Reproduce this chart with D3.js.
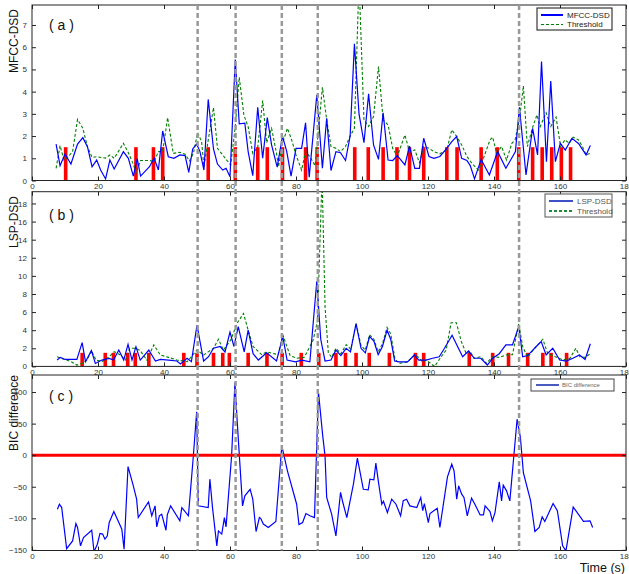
<!DOCTYPE html>
<html>
<head>
<meta charset="utf-8">
<script src="https://cdn.jsdelivr.net/npm/d3@7"></script>
<style>
  body { margin: 0; background: #fff; }
  svg { display: block; font-family: "Liberation Sans", Arial, sans-serif; }
</style>
</head>
<body>
<div id="chart"></div>
<script>
// [time (s), value] readings
const mfccDsd = [[7.3,1.64],[8.5,0.67],[10,1.19],[11.8,0.74],[13.8,1.64],[15.4,1.93],[16.8,1.52],[18.2,0.62],[19.6,0.92],[20.8,0.47],[22.3,0.07],[23.6,0.92],[24.9,0.52],[27.7,1.3],[29.2,1.0],[30.7,0.2],[31.9,0.97],[32.9,0.2],[35.6,0.62],[37,1.0],[38.3,0.47],[39.6,2.23],[41.3,1.07],[43,1.0],[44.8,1.15],[46.4,1.12],[47.5,0.37],[48.7,1.42],[49.9,1.64],[50.9,1.3],[52.1,0.47],[53.4,3.65],[55,1.42],[56.2,0.74],[57.8,0.47],[58.8,0.55],[60,0.17],[61.6,5.45],[62.8,2.55],[64.5,2.58],[65.5,1.3],[66.9,0.22],[68.4,3.3],[69.9,1.0],[71.3,2.83],[72.6,1.6],[74.3,0.6],[75.9,2.0],[77.2,1.3],[78.5,0.2],[80,1.45],[81.7,1.45],[82.9,2.6],[84,0.15],[86.3,3.85],[88,0.55],[89.3,2.8],[90.6,0.45],[92.1,1.3],[93.5,1.25],[95,0.9],[96.4,2.0],[97.7,6.15],[99.1,3.0],[100.6,1.7],[102,3.9],[103.5,1.6],[105,0.95],[106.4,3.05],[107.9,0.92],[109.3,0.9],[110.7,1.12],[113,0.7],[114.4,1.55],[116,0.55],[117.4,0.55],[118.7,1.9],[120.3,1.08],[121.8,1.0],[123.6,1.08],[125.7,1.45],[127.2,1.75],[128.7,1.98],[130.2,1.0],[131.8,0.9],[132.8,0.67],[134.1,0.07],[136.1,0.95],[138.6,0.25],[141.1,1.3],[143.6,0.55],[146.5,1.3],[147.7,3.3],[149.7,0.25],[151.7,2.35],[153.2,1.15],[154.4,5.35],[155.9,0.85],[157.2,4.48],[158.6,0.85],[160.1,1.67],[161.6,1.37],[163.6,1.9],[165.6,1.67],[167.9,1.15],[169.2,1.58]];

const mfccThreshold = [[7.3,0.55],[8.5,1.57],[9.7,0.92],[11,1.07],[12.3,1.3],[13.8,2.75],[15.4,2.35],[16.8,1.52],[18.2,1.04],[19.6,1.07],[22.3,1.01],[23.6,1.15],[24.9,1.0],[27.7,1.67],[29.2,1.25],[30.7,0.74],[31.5,0.35],[32.9,0.9],[35.6,0.9],[37,0.85],[38.3,1.3],[39.6,1.3],[41.1,2.83],[42.8,1.22],[44.8,1.27],[46.4,1.18],[47.7,0.88],[48.9,1.22],[50.2,2.15],[51.4,1.75],[52.1,0.62],[53.4,1.82],[55,3.28],[56.2,1.45],[57.8,1.15],[59,0.92],[60.2,0.7],[61.6,2.42],[62.8,4.65],[64.2,2.95],[65.5,2.42],[66.9,1.22],[68.4,1.5],[69.9,3.6],[71.1,1.7],[72.6,2.35],[74.1,1.22],[74.7,0.62],[75.9,1.67],[77.4,2.35],[78.7,1.82],[80,1.15],[81.7,0.47],[82.9,1.3],[84.2,1.07],[85.8,0.67],[88,4.2],[89.3,2.73],[90.6,1.53],[92.1,1.45],[93.5,1.3],[95,1.53],[96.4,2.0],[97.7,2.35],[99.1,9.0],[100.6,2.73],[102,2.43],[103.5,2.88],[105,5.13],[106.4,2.73],[107.9,2.5],[109.3,1.45],[110.7,1.08],[113,2.05],[114.4,1.3],[116,1.38],[117.4,0.8],[118.7,1.53],[120.3,1.45],[121.8,1.3],[123.6,1.2],[125.7,1.38],[127.2,2.28],[128.7,1.98],[130.2,1.6],[131.8,1.08],[133.3,0.77],[135.3,0.47],[136.8,1.0],[138.8,1.83],[139.6,1.95],[140.8,1.23],[142.3,1.53],[143.8,0.92],[145.4,1.67],[146.4,1.83],[147.7,2.73],[148.9,4.26],[150.1,1.53],[151.8,2.43],[153,2.95],[154,2.43],[155.8,3.05],[157.2,2.43],[158.8,2.85],[160.2,1.53],[161.5,1.83],[162.8,1.68],[164,1.95],[165.6,1.83],[166.8,1.53],[167.9,1.15],[169.2,1.23]];

const mfccMarks = [10.2,31.5,36.8,39.6,53.4,61.6,68.4,71.3,75.9,82.9,86.4,97.8,101.9,106.4,110.6,114.4,118.7,125.7,128.8,136.1,141,147.5,151.7,154.6,157.5,160.4,163.2];

const lspDsd = [[7.6,0.71],[8.6,1.0],[10.1,0.77],[13.6,0.77],[15.2,2.62],[16.2,0.52],[18,1.74],[19.2,0.33],[21.2,0.7],[23.4,0.89],[24.7,0.7],[26.3,1.81],[27.8,0.7],[29.1,2.44],[30.3,0.7],[31.5,2.18],[32.8,0.7],[35.4,1.81],[37.4,0.59],[38.9,0.77],[41.4,0.7],[43.9,0.6],[45,0.26],[47,0.89],[48.3,0.52],[50,4.57],[52,0.59],[53.5,1.07],[55,2.0],[57,2.2],[58.5,1.6],[60,3.8],[61.2,2.2],[62.5,4.4],[64.3,1.6],[65.5,4.0],[67,1.4],[68.6,0.7],[71.1,1.5],[74.1,0.6],[76,3.3],[77.3,0.7],[79.8,0.5],[81.8,0.7],[84.2,0.5],[86.3,9.4],[87.5,3.0],[88.8,0.6],[90.6,0.7],[92.1,1.8],[93.6,1.2],[95.2,2.0],[96.5,1.6],[98.2,4.7],[99.7,2.0],[101,1.5],[102.3,3.3],[103.6,2.8],[104.9,1.3],[106.2,2.2],[107.6,4.0],[108.7,3.0],[109.9,0.6],[111.3,0.5],[113.8,0.5],[115.9,1.26],[117.2,0.7],[119.4,0.7],[121.4,0.9],[123.4,1.07],[125,2.0],[127.3,3.45],[129,2.18],[130.5,1.07],[132.3,1.7],[134,0.9],[136,0.9],[138,0.15],[139.6,0.9],[141.6,1.4],[143.6,2.37],[145.6,2.37],[147.5,4.4],[148.7,1.07],[150.2,1.2],[152.8,2.2],[154.3,2.75],[155.8,1.26],[157.8,2.0],[159.9,0.7],[161.9,0.59],[163.9,0.9],[165.9,1.26],[167.6,0.77],[169.2,2.5]];

const lspThreshold = [[7.6,1.07],[9.6,0.8],[11.9,0.52],[13.6,0.15],[15.2,0.33],[16.7,0.7],[18,1.74],[19.4,0.7],[21.2,0.52],[23.4,1.07],[24.9,1.63],[26.8,1.26],[28.3,0.7],[29.6,2.0],[31.3,2.0],[32.8,1.74],[34.8,0.7],[36.9,2.37],[38.9,1.26],[41.4,1.0],[43.9,0.7],[47,0.52],[50,1.81],[52,1.26],[53.5,1.63],[55,2.0],[56.5,3.0],[58,1.8],[60.2,2.9],[62.2,4.8],[64.1,5.85],[65.5,4.0],[67,2.2],[69.6,1.3],[71.1,1.6],[74.6,1.3],[76,3.5],[78.2,1.2],[80.2,0.9],[82.5,1.0],[85.2,2.9],[86.5,5.0],[87.9,21],[88.8,6.6],[89.8,1.5],[90.8,1.0],[92.1,2.0],[93.6,1.4],[95.2,2.4],[96.6,1.9],[98.2,4.8],[99.7,2.3],[101,1.8],[102.3,3.5],[103.6,3.0],[104.9,1.6],[106.2,2.5],[107.6,4.3],[108.7,3.6],[110,0.8],[111.3,0.33],[113.8,0.5],[115.9,1.26],[116.9,1.07],[118.4,0.5],[119.4,0.7],[122,0.0],[124,1.07],[125.5,1.8],[127,4.82],[128.6,4.82],[130.1,2.75],[131.6,1.4],[132.6,1.7],[134,0.9],[136,1.07],[137.6,0.33],[139.6,1.07],[141.6,1.0],[143.6,1.26],[145.6,1.3],[147.5,4.75],[148.7,2.18],[150.2,1.0],[152.3,2.0],[154.8,3.0],[156.3,1.4],[158.4,1.1],[160.9,0.7],[163,0.9],[164.8,2.0],[166,1.07],[167.6,1.0],[169.2,1.4]];

const lspMarks = [15.2,22.2,24.7,29,31.3,35.4,46,50,55,57.8,59.8,65.5,71.2,75.8,81.6,86.9,92.1,95,98.2,102.2,108.3,116.2,118.7,132.5,139.6,144.4,150.2,154.8,157.3,162];

const bicDiff = [[7.7,-85.6],[8.3,-77.7],[9,-83],[10.5,-148],[12.3,-135.8],[13.3,-108.3],[13.8,-114.6],[14.7,-143.7],[15.6,-130.5],[18.1,-118.9],[18.8,-153],[19.8,-141],[20.6,-124],[21.4,-125],[22.1,-133],[22.8,-128],[23.4,-106.7],[24.8,-89.3],[27.2,-117],[27.9,-149],[29.1,-18],[30.7,-48.6],[31.7,-69.7],[32.2,-98.8],[35.3,-74],[36.3,-96],[37.3,-80.3],[37.8,-113.6],[38.6,-96],[39.3,-93.5],[40.6,-118.9],[41,-94.6],[42,-80.3],[44.8,-104],[45.4,-83],[47.4,-96],[48.9,-1],[49.9,68.7],[50.4,-80.3],[53.4,-83],[53.9,-38],[54.7,-83],[56,-143.7],[56.5,-120],[57.5,-125],[58.3,-98.8],[58.8,-113.6],[60.5,0],[61.5,115],[62.2,52],[63.8,-80.3],[64.5,-64.4],[66.1,-54],[66.9,-69.7],[67.9,-121],[68.9,-98.8],[69.3,-100],[70.1,-109],[71.6,-114.6],[73.9,-105],[75.7,14.8],[77.4,-24.8],[80.2,-77.7],[80.9,-110],[82,-106.7],[83,-92.4],[84.2,-96],[85.6,-98.8],[86.8,100],[88.1,30.6],[88.8,-1],[89.3,-67],[90.8,-93.5],[92.1,-128],[93.5,-59],[94.2,-75],[95.4,-98.8],[97.4,-46],[98.6,-4.8],[100.4,-54],[101.9,-55],[102.4,-38],[103.6,-39],[104.2,-12.7],[105,-43],[106,-77.7],[106.5,-73],[107.7,-90.9],[109,-69.7],[110.3,-77.7],[111.7,-96],[112.5,-72],[113.5,-69.7],[114.5,-80.3],[116.6,-83],[117.8,-67],[118.4,-88],[118.9,-76.6],[120.1,-106.7],[120.6,-92.4],[122.8,-84],[123.6,-114.6],[125.9,-34.3],[127.2,-14.3],[127.9,-24.8],[128.7,-69.7],[129.3,-48.6],[130.2,-61.8],[130.9,-67],[131.9,-96],[133.2,-68],[134.2,-77.7],[135.8,-94.6],[136.8,-94.6],[137.3,-80.3],[138.8,-89.3],[139.5,-104],[140.3,-91],[141.6,-42.3],[142.3,-72.4],[142.8,-47.5],[143.8,-56.5],[144.8,-72.4],[147,57],[148,28],[148.9,-27.5],[151.1,-72.4],[152.4,-121],[153.7,-114.6],[154.6,-97.7],[155.4,-105],[157.9,-76.6],[159.2,-88],[160.8,-143.7],[161.8,-151.6],[164,-82],[167.1,-105],[169.1,-104],[169.9,-114.6]];

// detected change points (gray dashed lines)
const changePoints = [50.2, 61.7, 75.7, 86.6, 147.6];

const xTicks = [0, 20, 40, 60, 80, 100, 120, 140, 160, 180];
const mfccTicks = [0, 1, 2, 3, 4, 5, 6, 7];
const lspTicks = [0, 2, 4, 6, 8, 10, 12, 14, 16, 18];
const bicTicks = [-150, -100, -50, 0, 50, 100];
const markHeight = 1.5;

const width = 629, height = 574;
const svg = d3.select('#chart').append('svg')
    .attr('width', width)
    .attr('height', height);

const x = d3.scaleLinear().domain([0, 180]).range([32, 626]);

const panels = [
    { id: 'a', title: 'MFCC-DSD', top: 5, bottom: 180.5, domain: [0, 7.9], ticks: mfccTicks,
      series: mfccDsd, thr: mfccThreshold, marks: mfccMarks, legend: ['MFCC-DSD', 'Threshold'] },
    { id: 'b', title: 'LSP-DSD', top: 191.7, bottom: 366.4, domain: [0, 19.3], ticks: lspTicks,
      series: lspDsd, thr: lspThreshold, marks: lspMarks, legend: ['LSP-DSD', 'Threshold'] },
    { id: 'c', title: 'BIC difference', top: 375, bottom: 550.5, domain: [-151, 127], ticks: bicTicks,
      series: bicDiff, thr: null, marks: null, legend: ['BIC difference'] }
];

panels.forEach(p => {
    const y = d3.scaleLinear().domain(p.domain).range([p.bottom, p.top]);
    const g = svg.append('g');

    g.append('clipPath').attr('id', 'clip-' + p.id)
        .append('rect')
        .attr('x', x(0)).attr('y', p.top)
        .attr('width', x(180) - x(0)).attr('height', p.bottom - p.top);

    const plot = g.append('g').attr('clip-path', `url(#clip-${p.id})`);
    const line = d3.line().x(d => x(d[0])).y(d => y(d[1]));

    // red markers / zero line
    if (p.marks) {
        plot.selectAll('rect.mark')
            .data(p.marks)
            .enter()
            .append('rect')
            .attr('class', 'mark')
            .attr('x', d => x(d) - 1.8)
            .attr('y', y(markHeight))
            .attr('width', 3.6)
            .attr('height', y(0) - y(markHeight))
            .attr('fill', '#ff0000');
    }

    if (p.thr) {
        plot.append('path')
            .datum(p.thr)
            .attr('d', line)
            .attr('fill', 'none')
            .attr('stroke', '#008000')
            .attr('stroke-width', 1.1)
            .attr('stroke-dasharray', '3,2');
    }

    plot.append('path')
        .datum(p.series)
        .attr('d', line)
        .attr('fill', 'none')
        .attr('stroke', '#0000ff')
        .attr('stroke-width', 1.2);

    if (p.id === 'c') {
        plot.append('line')
            .attr('x1', x(0)).attr('x2', x(180))
            .attr('y1', y(0)).attr('y2', y(0))
            .attr('stroke', '#ff0000')
            .attr('stroke-width', 3);
    }

    // axes, ticks on all four sides pointing inward
    const axisStyle = sel => {
        sel.select('.domain').remove();
        sel.selectAll('line').attr('stroke', '#222');
        sel.selectAll('text').attr('fill', '#333').style('font-size', '8px');
    };
    g.append('g').attr('transform', `translate(0,${p.bottom})`)
        .call(d3.axisBottom(x).tickValues(xTicks).tickSize(-4).tickPadding(3))
        .call(axisStyle);
    g.append('g').attr('transform', `translate(0,${p.top})`)
        .call(d3.axisTop(x).tickValues(xTicks).tickSize(-4).tickFormat(''))
        .call(axisStyle);
    g.append('g').attr('transform', `translate(${x(0)},0)`)
        .call(d3.axisLeft(y).tickValues(p.ticks).tickSize(-4).tickPadding(5))
        .call(axisStyle);
    g.append('g').attr('transform', `translate(${x(180)},0)`)
        .call(d3.axisRight(y).tickValues(p.ticks).tickSize(-4).tickFormat(''))
        .call(axisStyle);

    g.append('rect')
        .attr('x', x(0)).attr('y', p.top)
        .attr('width', x(180) - x(0)).attr('height', p.bottom - p.top)
        .attr('fill', 'none')
        .attr('stroke', '#222')
        .attr('stroke-width', 1);

    // panel tag
    g.append('text')
        .attr('x', 49).attr('y', p.top + (p.id === 'a' ? 25 : p.id === 'b' ? 28 : 26))
        .style('font-size', '14px')
        .attr('fill', '#111')
        .text(`( ${p.id} )`);

    // y title
    g.append('text')
        .attr('transform', `translate(18,${p.id === 'a' ? 41 : p.id === 'b' ? 222 : 413}) rotate(-90)`)
        .attr('text-anchor', 'middle')
        .style('font-size', '12px')
        .attr('fill', '#111')
        .text(p.title);
});

// legends
function legend(bx, by, bw, bh, items, opts) {
    const lg = svg.append('g');
    lg.append('rect')
        .attr('x', bx).attr('y', by).attr('width', bw).attr('height', bh)
        .attr('fill', '#fff').attr('stroke', opts.border).attr('stroke-width', 1);
    items.forEach((it, i) => {
        const yy = by + opts.row0 + i * opts.step;
        lg.append('line')
            .attr('x1', bx + opts.l0).attr('x2', bx + opts.l1)
            .attr('y1', yy).attr('y2', yy)
            .attr('stroke', it.color)
            .attr('stroke-width', it.w)
            .attr('stroke-dasharray', it.dash || null);
        lg.append('text')
            .attr('x', bx + opts.tx).attr('y', yy)
            .attr('dy', '0.35em')
            .style('font-size', opts.size + 'px')
            .attr('fill', opts.textColor)
            .text(it.label);
    });
}

legend(537, 8, 75, 22, [
    { label: panels[0].legend[0], color: '#0000ff', w: 2 },
    { label: panels[0].legend[1], color: '#008000', w: 1.1, dash: '3,2' }
], { border: '#111', row0: 7, step: 9.5, l0: 4, l1: 26, tx: 30, size: 8, textColor: '#222' });

legend(545, 194, 67, 23, [
    { label: panels[1].legend[0], color: '#3d50c8', w: 2 },
    { label: panels[1].legend[1], color: '#1f8a3a', w: 2, dash: '3,2' }
], { border: '#555', row0: 7, step: 10, l0: 4, l1: 28, tx: 32, size: 8, textColor: '#555' });

legend(531, 379, 83, 12, [
    { label: panels[2].legend[0], color: '#4a5bbf', w: 2 }
], { border: '#444', row0: 6, step: 0, l0: 5, l1: 28, tx: 31, size: 6, textColor: '#666' });

// change points across all panels
svg.append('g')
    .selectAll('line')
    .data(changePoints)
    .enter()
    .append('line')
    .attr('x1', d => x(d)).attr('x2', d => x(d))
    .attr('y1', 5).attr('y2', 550.5)
    .attr('stroke', '#999')
    .attr('stroke-width', 2.5)
    .attr('stroke-dasharray', '5,3');

svg.append('text')
    .attr('x', 625).attr('y', 572)
    .attr('text-anchor', 'end')
    .style('font-size', '12.5px')
    .attr('fill', '#111')
    .text('Time (s)');
</script>
</body>
</html>
